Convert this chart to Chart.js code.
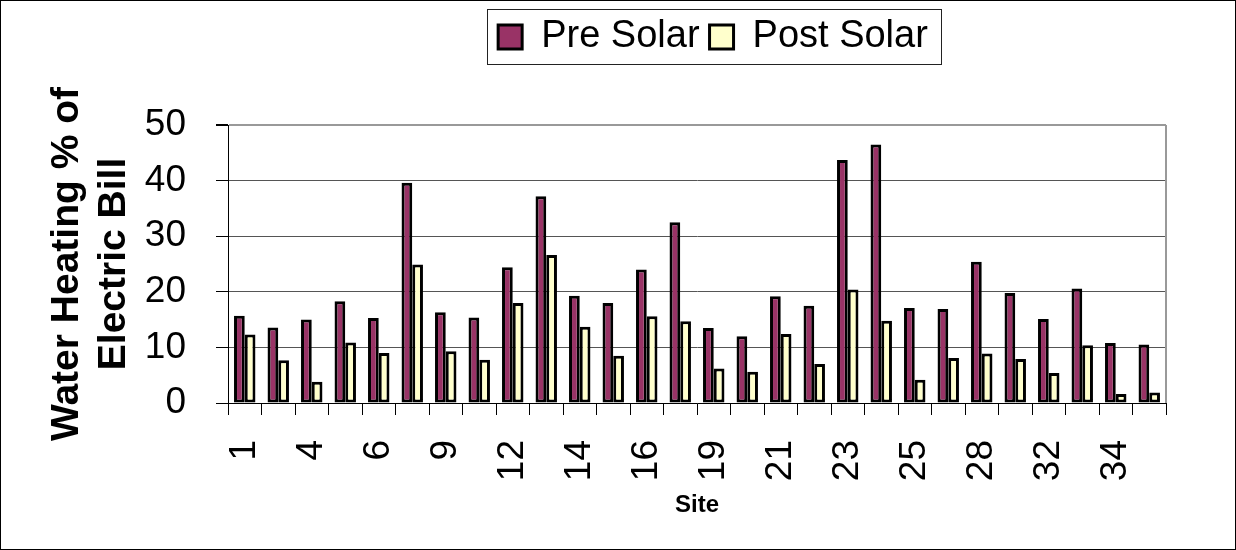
<!DOCTYPE html>
<html>
<head>
<meta charset="utf-8">
<script src="https://cdn.jsdelivr.net/npm/chart.js@4.4.1/dist/chart.umd.min.js"></script>
<style>
  html, body { margin: 0; padding: 0; background: #fff; overflow: hidden; }
  #wrap { width: 1236px; height: 550px; position: relative; }
</style>
</head>
<body>
<div id="wrap"><canvas id="grafico"></canvas></div>
<script>
// datos
const sitios = ['1','3','4','5','6','8','9','10','12','13','14','15','16','17','19','20','21','22','23','24','25','27','28','30','32','33','34','35'];
const preSolar = [15.7, 13.6, 15.0, 18.3, 15.3, 39.6, 16.3, 15.4, 24.4, 37.2, 19.3, 18.0, 24.0, 32.5, 13.5, 12.0, 19.2, 17.5, 43.7, 46.5, 17.1, 16.9, 25.4, 19.8, 15.1, 20.6, 10.8, 10.5];
const postSolar = [12.3, 7.7, 3.8, 10.9, 9.0, 24.9, 9.3, 7.8, 18.0, 26.6, 13.7, 8.5, 15.6, 14.7, 6.2, 5.6, 12.4, 7.0, 20.4, 14.8, 4.2, 8.1, 8.9, 7.9, 5.4, 10.4, 1.6, 1.9];
const ticksY = [0, 10, 20, 30, 40, 50];

Chart.defaults.font.family = "'Liberation Sans', Arial, sans-serif";
Chart.defaults.color = '#000';

const ALTO_LEYENDA = 117;   // la zona de grafico empieza en y=125
const ANCHO_EJE_Y = 185;    // la zona de grafico empieza en x=228
const ALTO_EJE_X = 147;     // la zona de grafico termina en y=403

const marcos = {
    id: 'marcos',
    beforeInit(chart) {
        const fit = chart.legend.fit;
        chart.legend.fit = function () { fit.call(this); this.height = ALTO_LEYENDA; };
    },
    afterLayout(chart) {
        chart.legend.left += 16;
        chart.legend.right += 16;
    },
    afterDraw(chart) {
        const ctx = chart.ctx, a = chart.chartArea;
        ctx.save();
        // borde derecho del area de trazado
        ctx.strokeStyle = '#999';
        ctx.lineWidth = 2;
        ctx.beginPath();
        ctx.moveTo(a.right, a.top);
        ctx.lineTo(a.right, a.bottom);
        ctx.stroke();
        // caja de la leyenda
        const hb = chart.legend.legendHitBoxes;
        if (hb && hb.length) {
            const x1 = hb[0].left - 11;
            const x2 = hb[hb.length - 1].left + hb[hb.length - 1].width + 13;
            ctx.strokeStyle = '#222';
            ctx.lineWidth = 1;
            ctx.strokeRect(Math.round(x1) + 0.5, 9.5, Math.round(x2 - x1), 55);
        }
        // marco exterior
        ctx.strokeStyle = '#000';
        ctx.lineWidth = 1;
        ctx.strokeRect(0.5, 0.5, chart.width - 1, chart.height - 1);
        ctx.restore();
    }
};

new Chart(document.getElementById('grafico'), {
    type: 'bar',
    data: {
        labels: sitios,
        datasets: [
            { label: 'Pre Solar', data: preSolar, backgroundColor: '#993366', borderColor: '#000', borderWidth: 3, borderSkipped: false },
            { label: 'Post Solar', data: postSolar, backgroundColor: '#FFFFCC', borderColor: '#000', borderWidth: 3, borderSkipped: false }
        ]
    },
    options: {
        responsive: true,
        maintainAspectRatio: false,
        animation: false,
        layout: { padding: { top: 8, left: 43, right: 70, bottom: 0 } },
        datasets: { bar: { categoryPercentage: 0.64, barPercentage: 1.0 } },
        plugins: {
            tooltip: { enabled: false },
            legend: {
                position: 'top',
                fullSize: false,
                labels: {
                    font: { size: 38 },
                    boxWidth: 24,
                    boxHeight: 24,
                    padding: 10,
                    color: '#000'
                }
            }
        },
        scales: {
            x: {
                afterFit(s) { s.height = ALTO_EJE_X; },
                grid: { drawOnChartArea: false, drawTicks: true, tickLength: 12, tickColor: '#000', offset: true },
                border: { display: true, color: '#000', width: 1 },
                ticks: {
                    autoSkip: false,
                    maxRotation: 90,
                    minRotation: 90,
                    padding: 25,
                    font: { size: 37 },
                    color: '#000',
                    callback: (v, i) => (i % 2 === 0 ? sitios[i] : '')
                },
                title: { display: true, text: 'Site', font: { size: 24, weight: 'bold' }, padding: { top: 0, bottom: 30 }, color: '#000' }
            },
            y: {
                min: 0,
                max: 50,
                afterFit(s) { s.width = ANCHO_EJE_Y; },
                afterBuildTicks(s) { s.ticks = ticksY.map(v => ({ value: v })); },
                grid: {
                    color: c => (c.tick && c.tick.value === 50 ? '#999' : '#555'),
                    lineWidth: c => (c.tick && c.tick.value === 50 ? 2 : 1),
                    tickLength: 12,
                    tickColor: '#000'
                },
                border: { display: true, color: '#000', width: 1 },
                ticks: { padding: 30, font: { size: 37 }, color: '#000' },
                title: {
                    display: true,
                    text: ['Water Heating % of', 'Electric Bill'],
                    font: { size: 39, weight: 'bold', lineHeight: 1.22 },
                    padding: 0,
                    color: '#000'
                }
            }
        }
    },
    plugins: [marcos]
});
</script>
</body>
</html>
